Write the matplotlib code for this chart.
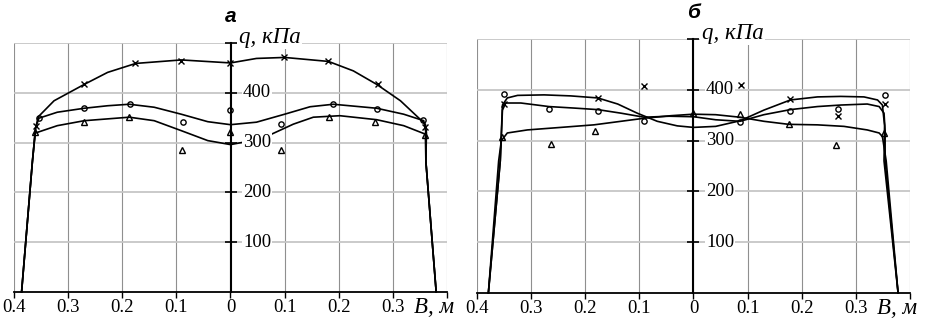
import matplotlib
matplotlib.use("Agg")
import matplotlib.pyplot as plt

# ---- panel "а": measured points
a_cross_x = [-0.359, -0.270, -0.176, -0.091, 0.0, 0.099, 0.181, 0.272, 0.360]
a_cross_y = [334, 417, 459, 464, 459, 472, 463, 417, 332]
a_circ_x = [-0.353, -0.270, -0.186, -0.088, 0.0, 0.093, 0.189, 0.270, 0.355]
a_circ_y = [349, 369, 378, 341, 365, 338, 377, 367, 346]
a_tri_x = [-0.361, -0.270, -0.188, -0.089, 0.0, 0.094, 0.182, 0.267, 0.360]
a_tri_y = [321, 341, 351, 286, 321, 286, 352, 341, 315]

# ---- panel "а": fitted curves
a_cross_cx = [-0.386, -0.366, -0.360, -0.355, -0.326, -0.270, -0.227, -0.175, -0.091,
              0.0, 0.048, 0.100, 0.181, 0.227, 0.270, 0.314, 0.360, 0.362, 0.361, 0.380]
a_cross_cy = [0, 262, 330, 352, 384, 417, 441, 459, 466,
              460, 469, 471, 463, 444, 417, 384, 337, 320, 262, 0]
a_circ_cx = [-0.386, -0.366, -0.360, -0.354, -0.320, -0.270, -0.227, -0.187, -0.141, -0.091,
             -0.042, 0.0, 0.048, 0.100, 0.147, 0.190, 0.270, 0.320, 0.357, 0.361, 0.361, 0.380]
a_circ_cy = [0, 262, 330, 349, 361, 369, 374, 377, 371, 357,
             342, 336, 341, 357, 372, 377, 369, 357, 344, 320, 262, 0]
a_tri_cx = [-0.386, -0.366, -0.361, -0.320, -0.270, -0.187, -0.141, -0.091, -0.042, 0.0,
            0.040, 0.076, 0.116, 0.153, 0.202, 0.270, 0.320, 0.360, 0.361, 0.380]
a_tri_cy = [0, 262, 319, 334, 344, 351, 344, 324, 304, 296,
            304, 317, 337, 351, 354, 346, 334, 317, 262, 0]

# ---- panel "б": measured points
b_cross_x = [-0.351, -0.177, -0.091, 0.087, 0.179, 0.267, 0.354]
b_cross_y = [372, 384, 408, 409, 382, 349, 372]
b_circ_x = [-0.350, -0.267, -0.177, -0.091, 0.086, 0.179, 0.267, 0.354]
b_circ_y = [391, 363, 359, 338, 336, 359, 363, 390]
b_tri_x = [-0.353, -0.264, -0.182, 0.0, 0.086, 0.176, 0.264, 0.352]
b_tri_y = [308, 293, 318, 354, 352, 333, 292, 315]

# ---- panel "б": fitted curves
b_cross_cx = [-0.379, -0.357, -0.353, -0.344, -0.325, -0.276, -0.227, -0.177, -0.140, -0.104,
              -0.067, -0.030, 0.0, 0.041, 0.086, 0.130, 0.179, 0.229, 0.272, 0.315,
              0.340, 0.349, 0.353, 0.352, 0.378]
b_cross_cy = [0, 260, 370, 384, 389, 390, 388, 384, 372, 354,
              338, 329, 326, 328, 339, 360, 380, 386, 387, 386,
              380, 370, 330, 260, 0]
b_circ_cx = [-0.379, -0.357, -0.353, -0.347, -0.319, -0.267, -0.220, -0.177, -0.134, -0.091,
             -0.045, 0.0, 0.041, 0.086, 0.130, 0.179, 0.229, 0.272, 0.321, 0.343,
             0.352, 0.354, 0.354, 0.378]
b_circ_cy = [0, 260, 360, 374, 374, 367, 364, 361, 354, 346,
             348, 347, 341, 338, 351, 361, 367, 370, 372, 367,
             354, 320, 260, 0]
b_tri_cx = [-0.379, -0.360, -0.355, -0.344, -0.307, -0.245, -0.184, -0.134, -0.091, -0.042,
            0.0, 0.041, 0.086, 0.130, 0.176, 0.229, 0.278, 0.321, 0.343, 0.349,
            0.356, 0.378]
b_tri_cy = [0, 260, 300, 315, 321, 326, 331, 338, 344, 349,
            352, 351, 346, 338, 332, 331, 328, 321, 315, 308,
            260, 0]

x_ticks = [-0.4, -0.3, -0.2, -0.1, 0.0, 0.1, 0.2, 0.3, 0.4]
x_labels = ["0.4", "0.3", "0.2", "0.1", "0", "0.1", "0.2", "0.3", ""]
y_ticks = [100, 200, 300, 400, 500]
y_labels = ["100", "200", "300", "400", ""]

SERIF = "Liberation Serif"


def draw_panel(ax, title, curves, points):
    ax.set_xlim(-0.4, 0.4)
    ax.set_ylim(0, 500)

    # axes frame: y axis sits at x = 0
    ax.spines["left"].set_visible(False)
    ax.spines["top"].set_visible(False)
    ax.spines["right"].set_position(("data", 0))
    ax.spines["right"].set_linewidth(1.5)
    ax.spines["bottom"].set_linewidth(1.3)
    ax.spines["right"].set_zorder(4)

    ax.set_xticks(x_ticks)
    ax.set_xticklabels(x_labels, fontfamily=SERIF, fontsize=13.5)
    ax.tick_params(axis="x", direction="out", length=4, width=1, pad=1)

    ax.yaxis.tick_right()
    ax.set_yticks(y_ticks)
    ax.set_yticklabels([])
    ax.tick_params(axis="y", direction="inout", length=9, width=1.2)

    # value labels on the right of the centre axis, white boxes over the curves
    for v, lab in zip(y_ticks, y_labels):
        if lab:
            ax.annotate(lab, xy=(0, v), xytext=(9, 0), textcoords="offset points",
                        ha="left", va="center", fontfamily=SERIF, fontsize=13.5,
                        zorder=6, bbox=dict(facecolor="white", edgecolor="none", pad=0.8))

    ax.xaxis.grid(True, color="#8f8f8f", lw=0.8)
    ax.yaxis.grid(True, color="#c6c6c6", lw=1.3)
    ax.set_axisbelow(True)

    for (cx, cy) in curves:
        ax.plot(cx, cy, color="black", lw=1.2, zorder=3, clip_on=False)

    for (px, py, m, ms) in points:
        ax.plot(px, py, linestyle="none", marker=m, markersize=ms,
                markerfacecolor="none", markeredgecolor="black",
                markeredgewidth=1.0, zorder=4)

    ax.annotate("q, кПа", xy=(0, 500), xytext=(6, 4), textcoords="offset points",
                ha="left", va="center", fontfamily=SERIF, fontstyle="italic",
                fontsize=16.5, zorder=6,
                bbox=dict(facecolor="white", edgecolor="none", pad=1.0))
    ax.annotate("B, м", xy=(0.4, 0), xytext=(-24, -11), textcoords="offset points",
                ha="left", va="center", fontfamily=SERIF, fontstyle="italic",
                fontsize=16.5, annotation_clip=False)
    ax.set_title(title, fontfamily="Liberation Sans", fontweight="bold",
                 fontstyle="italic", fontsize=15, pad=15)


fig = plt.figure(figsize=(9.28, 3.22), dpi=100)
ax_a = fig.add_axes([14 / 928, 30 / 322, 433 / 928, 249 / 322])
ax_b = fig.add_axes([477 / 928, 29 / 322, 433 / 928, 254 / 322])

draw_panel(ax_a, "а",
           [(a_cross_cx, a_cross_cy), (a_circ_cx, a_circ_cy), (a_tri_cx, a_tri_cy)],
           [(a_cross_x, a_cross_y, "x", 4.2), (a_circ_x, a_circ_y, "o", 3.8),
            (a_tri_x, a_tri_y, "^", 5.0)])
draw_panel(ax_b, "б",
           [(b_cross_cx, b_cross_cy), (b_circ_cx, b_circ_cy), (b_tri_cx, b_tri_cy)],
           [(b_cross_x, b_cross_y, "x", 4.2), (b_circ_x, b_circ_y, "o", 3.8),
            (b_tri_x, b_tri_y, "^", 5.0)])

fig.savefig("out.png", dpi=100)
